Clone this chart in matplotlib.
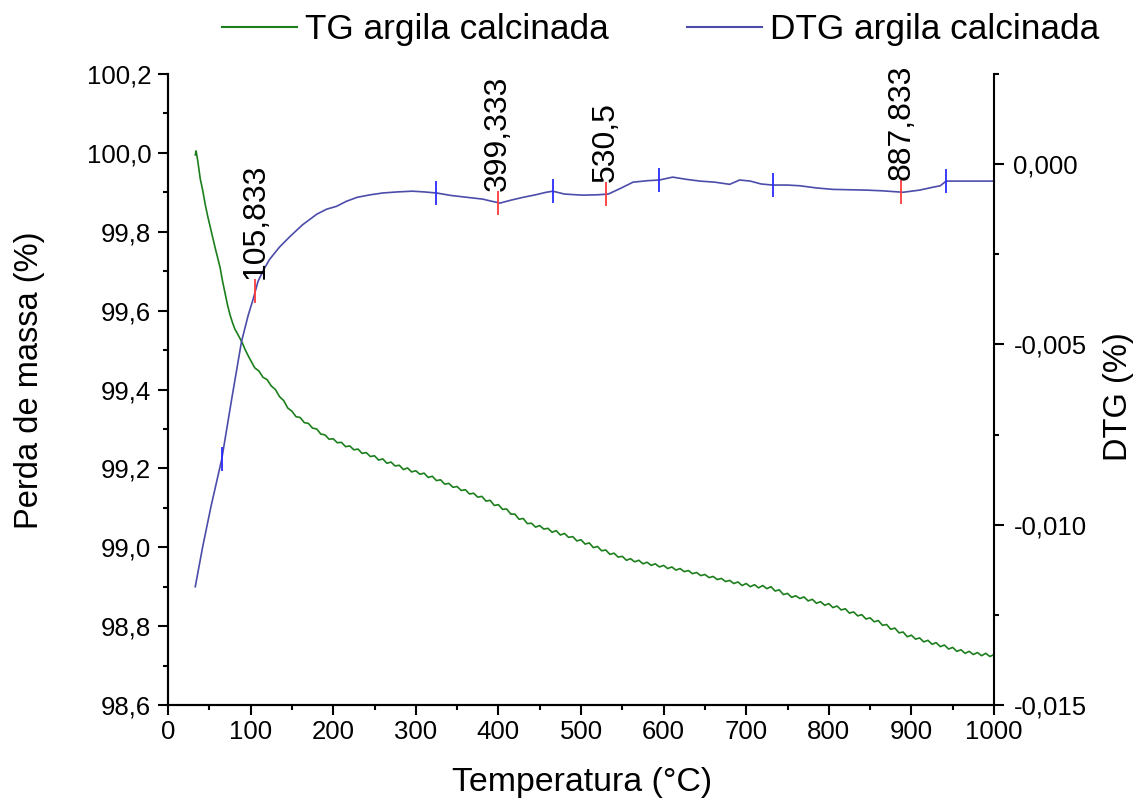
import numpy as np
import matplotlib
matplotlib.use("Agg")
import matplotlib.pyplot as plt
from matplotlib import font_manager
from matplotlib.ticker import MultipleLocator, FuncFormatter
from matplotlib.lines import Line2D

# ---------------- data ----------------
tg_temp_start = [33, 34, 36, 39, 42, 45, 48, 51, 54, 57, 60, 63, 66, 69, 72, 75,
                 78, 81, 84, 87, 90, 93, 96]
tg_mass_start = [99.995, 100.005, 99.980, 99.935, 99.905, 99.870, 99.840, 99.813,
                 99.787, 99.760, 99.735, 99.710, 99.675, 99.645, 99.615, 99.590,
                 99.570, 99.553, 99.542, 99.530, 99.518, 99.503, 99.490]
tg_temp_rest = list(range(100, 1001, 5))
tg_mass_rest = [
    99.474, 99.455, 99.447, 99.431, 99.425, 99.409, 99.400, 99.382, 99.372, 99.353,
    99.345, 99.331, 99.329, 99.316, 99.314, 99.302, 99.300, 99.287, 99.285, 99.274,
    99.275, 99.265, 99.266, 99.255, 99.257, 99.247, 99.249, 99.238, 99.240, 99.230,
    99.232, 99.221, 99.224, 99.213, 99.216, 99.206, 99.208, 99.197, 99.201, 99.191,
    99.194, 99.185, 99.188, 99.177, 99.180, 99.169, 99.171, 99.160, 99.162, 99.152,
    99.154, 99.144, 99.146, 99.135, 99.137, 99.127, 99.129, 99.117, 99.119, 99.106,
    99.108, 99.096, 99.097, 99.084, 99.084, 99.071, 99.073, 99.060, 99.061, 99.051,
    99.055, 99.046, 99.048, 99.038, 99.042, 99.031, 99.035, 99.025, 99.027, 99.016,
    99.019, 99.008, 99.011, 98.999, 99.002, 98.991, 98.993, 98.982, 98.985, 98.975,
    98.977, 98.967, 98.971, 98.963, 98.967, 98.958, 98.962, 98.954, 98.958, 98.950,
    98.954, 98.946, 98.950, 98.942, 98.946, 98.938, 98.941, 98.933, 98.936, 98.928,
    98.931, 98.923, 98.926, 98.918, 98.921, 98.913, 98.916, 98.908, 98.912, 98.903,
    98.908, 98.900, 98.905, 98.897, 98.903, 98.895, 98.900, 98.889, 98.892, 98.880,
    98.883, 98.873, 98.877, 98.870, 98.874, 98.864, 98.868, 98.858, 98.862, 98.853,
    98.857, 98.847, 98.851, 98.841, 98.844, 98.833, 98.836, 98.826, 98.829, 98.818,
    98.821, 98.811, 98.814, 98.802, 98.804, 98.792, 98.795, 98.783, 98.785, 98.773,
    98.777, 98.767, 98.770, 98.760, 98.764, 98.754, 98.758, 98.748, 98.752, 98.742,
    98.746, 98.736, 98.740, 98.731, 98.736, 98.728, 98.733, 98.725, 98.731, 98.723,
    98.728]

dtg_temp = [33, 42, 52, 65, 77, 89, 97, 103, 109, 116, 123, 135, 148, 163, 180, 192,
            204, 216, 229, 245, 260, 278, 296, 310, 325, 343, 362, 381, 392, 402, 415,
            430, 445, 458, 466, 480, 502, 520, 533, 548, 563, 580, 595, 611, 627, 644,
            662, 680, 692, 705, 718, 732, 750, 765, 785, 805, 825, 845, 865, 890, 910,
            926, 935, 942, 960, 980, 1000]
dtg_value = [-0.01172, -0.01061, -0.00950, -0.00819, -0.00653, -0.00492, -0.00420,
             -0.00375, -0.00325, -0.00292, -0.00264, -0.00230, -0.00200, -0.00168,
             -0.00139, -0.00125, -0.00117, -0.00103, -0.00092, -0.00085, -0.00080,
             -0.00077, -0.00075, -0.00077, -0.00080, -0.00087, -0.00092, -0.00097,
             -0.00103, -0.00108, -0.00100, -0.00092, -0.00085, -0.00078, -0.00075,
             -0.00083, -0.00086, -0.00085, -0.00083, -0.00067, -0.00050, -0.00046,
             -0.00044, -0.00036, -0.00042, -0.00047, -0.00050, -0.00056, -0.00044,
             -0.00047, -0.00055, -0.00058, -0.00058, -0.00060, -0.00066, -0.00070,
             -0.00071, -0.00072, -0.00074, -0.00078, -0.00072, -0.00064, -0.00060,
             -0.00047, -0.00047, -0.00047, -0.00047]

peak_temps = [105.833, 399.333, 530.5, 887.833]
peak_labels = ["105,833", "399,333", "530,5", "887,833"]
edge_temps = [65, 325, 466, 595, 732, 942]

x_label = "Temperatura (°C)"
y_label = "Perda de massa (%)"
y2_label = "DTG (%)"
legend_labels = ["TG argila calcinada", "DTG argila calcinada"]

# ---------------- fonts ----------------
names = {f.name for f in font_manager.fontManager.ttflist}
if "Liberation Sans Narrow" in names:
    fam = "Liberation Sans Narrow"
    fs_tick, fs_ann, fs_xl, fs_yl, fs_leg = 21, 27, 29, 28, 31
else:
    fam = "Liberation Sans"
    fs_tick, fs_ann, fs_xl, fs_yl, fs_leg = 18.5, 23, 24.4, 23.5, 25.4
plt.rcParams["font.family"] = [fam, "DejaVu Sans"]

W, H = 1135, 805
fig = plt.figure(figsize=(W / 100, H / 100), dpi=100)
L, R, T, B = 168, 994, 74, 705
ax = fig.add_axes([L / W, 1 - B / H, (R - L) / W, (B - T) / H])
ax2 = ax.twinx()

green = "#1c7f1c"
blue = "#4c4caa"

tg_temp = tg_temp_start + tg_temp_rest
tg_mass = tg_mass_start + tg_mass_rest
ax.plot(tg_temp, tg_mass, color=green, lw=1.2)
ax2.plot(dtg_temp, dtg_value, color=blue, lw=1.2)

peak_y = np.interp(peak_temps, dtg_temp, dtg_value)
edge_y = np.interp(edge_temps, dtg_temp, dtg_value)
ax2.plot(peak_temps, peak_y, ls="none", marker="|", ms=17, mew=1.3, color="#ff3b3b")
ax2.plot(edge_temps, edge_y, ls="none", marker="|", ms=17, mew=1.3, color="#2b2bff")
for t, yv, lbl in zip(peak_temps, peak_y, peak_labels):
    ax2.annotate(lbl, (t, yv), xytext=(0, 8.5), textcoords="offset points",
                 rotation=90, ha="center", va="bottom", fontsize=fs_ann)

ax.set_xlim(0, 1000)
ax.set_ylim(98.6, 100.2)
ax2.set_ylim(-0.015, 0.0025)

ax.xaxis.set_major_locator(MultipleLocator(100))
ax.xaxis.set_minor_locator(MultipleLocator(50))
ax.yaxis.set_major_locator(MultipleLocator(0.2))
ax.yaxis.set_minor_locator(MultipleLocator(0.1))
ax2.yaxis.set_major_locator(MultipleLocator(0.005))
ax2.yaxis.set_minor_locator(MultipleLocator(0.0025))

ax.yaxis.set_major_formatter(FuncFormatter(lambda v, p: f"{v:.1f}".replace(".", ",")))
ax2.yaxis.set_major_formatter(FuncFormatter(
    lambda v, p: f"{(0.0 if abs(v) < 1e-12 else v):.3f}".replace(".", ",")))

for a in (ax, ax2):
    a.spines["top"].set_visible(False)
    for s in a.spines.values():
        s.set_linewidth(1.5)
    a.tick_params(which="major", direction="out", length=7, width=1.5,
                  labelsize=fs_tick)
    a.tick_params(which="minor", direction="out", length=3.5, width=1.5)
ax.spines["right"].set_visible(False)
ax.tick_params(axis="y", pad=5)
ax.tick_params(axis="x", pad=4)
ax2.tick_params(axis="y", pad=7)

fig.text(582 / W, 1 - 782 / H, x_label, ha="center", va="center", fontsize=fs_xl)
fig.text(30 / W, 1 - 380 / H, y_label, ha="center", va="center", rotation=90,
         fontsize=fs_yl)
fig.text(1118 / W, 1 - 397 / H, y2_label, ha="center", va="center", rotation=90,
         fontsize=fs_yl)

em = fs_leg * 100 / 72
handles = [Line2D([], [], color=green, lw=1.5), Line2D([], [], color=blue, lw=1.5)]
fig.legend(handles, legend_labels, loc="center left",
           bbox_to_anchor=(222 / W, 1 - 30 / H), ncol=2, frameon=False,
           fontsize=fs_leg, handlelength=75 / em, handletextpad=8 / em,
           columnspacing=78 / em, borderpad=0, borderaxespad=0)

fig.savefig("out.png", dpi=100)
